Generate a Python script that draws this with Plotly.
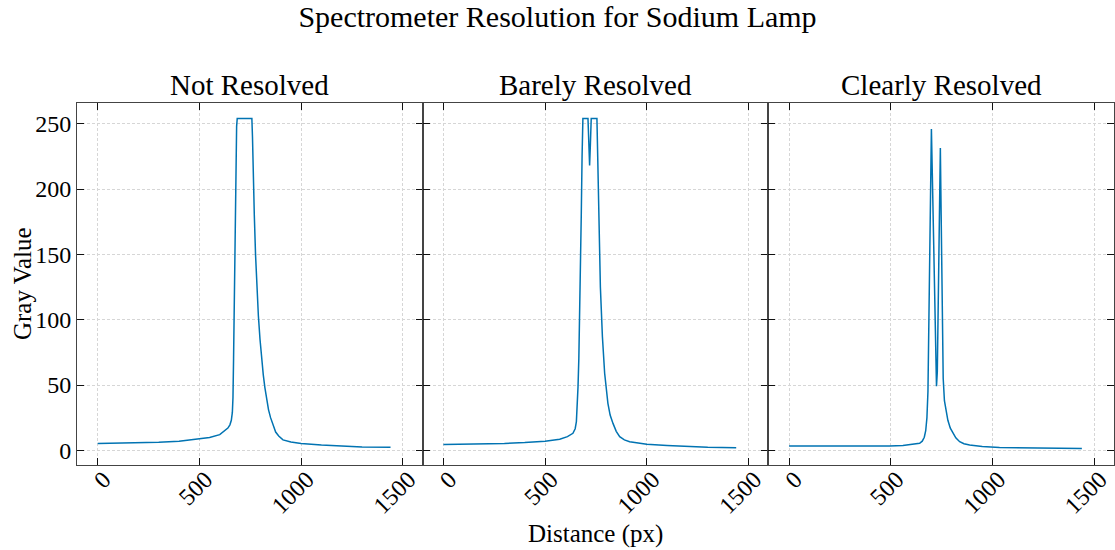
import plotly.graph_objects as go
from plotly.subplots import make_subplots

# ---- data ----
titles = ["Not Resolved", "Barely Resolved", "Clearly Resolved"]

x1 = [0, 100, 200, 300, 400, 500, 550, 600, 620, 640, 650, 657, 662, 665, 668, 671, 675, 679, 683, 686,
      758, 761, 765, 770, 776, 783, 790, 798, 806, 814, 822, 830, 840, 850, 862, 875, 890, 911, 950, 1000,
      1100, 1200, 1300, 1440]
y1 = [5.3, 5.4, 5.6, 6.1, 7.0, 8.6, 9.8, 12.0, 14.2, 17.0, 19.5, 23.0, 29.0, 40.0, 70.0, 110, 165, 215, 248, 254,
      254, 240, 205, 180, 150, 125, 103, 85, 70, 58, 48, 40, 31, 25, 19, 14, 11, 8.0, 6.3, 5.2,
      4.0, 3.1, 2.6, 2.3]

x2 = [0, 100, 200, 300, 400, 500, 572, 610, 637, 648, 654, 658, 662, 666, 670, 674, 678, 682, 686, 711,
      715, 719, 723, 727, 755, 759, 765, 772, 782, 793, 809, 820, 834, 850, 867, 890, 916, 966, 1000,
      1100, 1200, 1300, 1440]
y2 = [4.5, 4.6, 4.8, 5.2, 5.9, 7.0, 8.5, 10.5, 13.0, 16.5, 22.0, 32.0, 48.6, 70.0, 99.7, 140, 180, 225, 254, 254,
      235, 218, 235, 254, 254, 225, 176, 125, 87, 59, 36, 27, 20.6, 14.5, 10.4, 8.0, 6.6, 5.4, 4.6,
      3.6, 2.8, 2.3, 2.0]

x3 = [0, 100, 200, 300, 400, 494, 560, 600, 642, 655, 665, 672, 678, 683, 688, 693, 697, 700, 704, 710,
      716, 721, 725, 729, 734, 740, 744, 748, 753, 758, 764, 772, 781, 793, 806, 820, 839, 860, 888, 950,
      1035, 1200, 1300, 1440]
y3 = [3.3, 3.2, 3.1, 3.1, 3.2, 3.3, 3.7, 4.3, 5.4, 7.0, 10.0, 15.0, 25.0, 45.0, 100, 170, 225, 246, 215, 160,
      100, 62, 49, 60, 120, 200, 231.5, 180, 100, 55, 38, 29, 23, 17, 13, 9.5, 6.6, 5.0, 4.0, 3.0,
      2.2, 1.7, 1.5, 1.3]

xs = [x1, x2, x3]
ys = [y1, y2, y3]

x_ticks = [0, 500, 1000, 1500]
y_ticks = [0, 50, 100, 150, 200, 250]

LINE = "#0173B2"
FONT = "Liberation Serif"

fig = make_subplots(rows=1, cols=3, shared_yaxes=True, horizontal_spacing=0)

for i in range(3):
    fig.add_trace(go.Scatter(x=xs[i], y=ys[i], mode="lines",
                             line=dict(color=LINE, width=1.5),
                             showlegend=False), row=1, col=i + 1)

axis_common = dict(
    showline=True, linecolor="#444444", linewidth=1, mirror="allticks",
    ticks="inside", ticklen=7, tickwidth=1, tickcolor="#111111",
    showgrid=True, gridcolor="#d6d6d6", griddash="3px,2px", gridwidth=0.8,
    zeroline=False, tickfont=dict(family=FONT, size=24, color="black"),
    automargin=False,
)

for i in range(3):
    fig.update_xaxes(range=[-102, 1598], tickvals=x_ticks, tickangle=-45,
                     ticklabelshift=6, ticklabelstandoff=-10,
                     row=1, col=i + 1, **axis_common)
    fig.update_yaxes(range=[-11.25, 265.9], tickvals=y_ticks,
                     showticklabels=(i == 0), row=1, col=i + 1, **axis_common)

# subplot titles
doms = [(0, 1 / 3), (1 / 3, 2 / 3), (2 / 3, 1)]
for t, d in zip(titles, doms):
    fig.add_annotation(text=t, x=(d[0] + d[1]) / 2, y=1.0, xref="paper", yref="paper",
                       xanchor="center", yanchor="bottom", yshift=0, showarrow=False,
                       font=dict(family=FONT, size=29, color="black"))

fig.add_annotation(text="Distance (px)", x=0.5, y=-0.19, xref="paper", yref="paper",
                   xanchor="center", yanchor="middle", showarrow=False,
                   font=dict(family=FONT, size=25, color="black"))
fig.add_annotation(text="Gray Value", x=-0.053, y=0.5, xref="paper", yref="paper",
                   xanchor="center", yanchor="middle", textangle=-90, showarrow=False,
                   font=dict(family=FONT, size=25, color="black"))

fig.update_layout(
    width=1115, height=550,
    margin=dict(l=77, r=1, t=103, b=85),
    paper_bgcolor="white", plot_bgcolor="white",
    title=dict(text="Spectrometer Resolution for Sodium Lamp", x=0.5, xanchor="center",
               y=1 - 16 / 550, yanchor="middle",
               font=dict(family=FONT, size=30, color="black")),
)

fig.write_html("out.html")
